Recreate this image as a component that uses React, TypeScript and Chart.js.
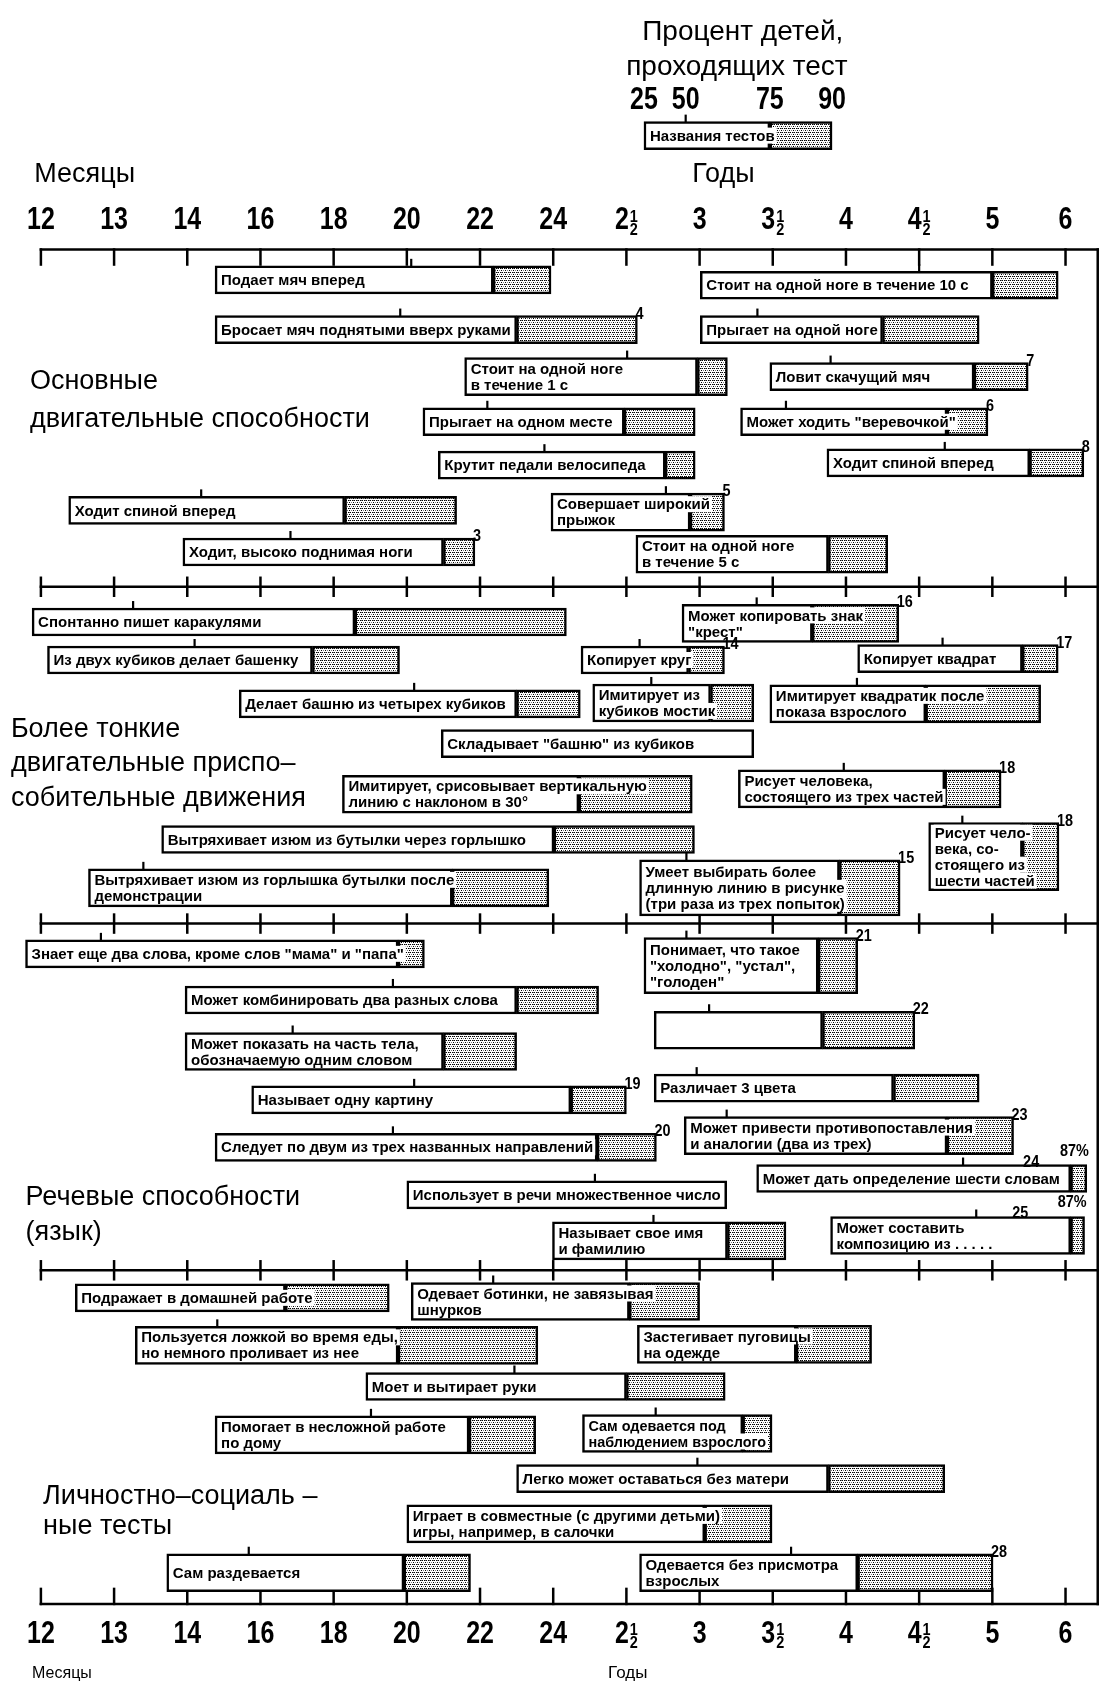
import React, { useEffect, useRef } from "react";
import { Chart, registerables } from "chart.js";

Chart.register(...registerables);

// ---------- DATA ----------
// Age axis tick labels (uniformly spaced positions 0..14)
const ageTicks = ["12", "13", "14", "16", "18", "20", "22", "24", "2½", "3", "3½", "4", "4½", "5", "6"];
const percentLabels = ["25", "50", "75", "90"];

// [name ("|" = line break), 25%, 50%, 75%, 90% (in age-tick units), row, footnote?, footnoteAt?, extraNote?]
const legendTest = ["Названия тестов", 8.24, 8.81, 9.96, 10.81, 3.0];

const grossMotor = [
  ["Подает мяч вперед", 2.38, 5.06, 6.18, 6.97, 6.19],
  ["Бросает мяч поднятыми вверх руками", 2.38, 4.91, 6.5, 8.15, 7.29, "4"],
  ["Стоит на одной ноге|в течение 1 с", 5.79, 8.01, 8.97, 9.38, 8.33],
  ["Прыгает на одном месте", 5.22, 6.1, 7.97, 8.94, 9.33],
  ["Крутит педали велосипеда", 5.43, 6.88, 8.53, 8.94, 10.29],
  ["Ходит спиной вперед", 0.38, 2.19, 4.15, 5.68, 11.29],
  ["Ходит, высоко поднимая ноги", 1.94, 3.41, 5.5, 5.93, 12.21, "3"],
  ["Стоит на одной ноге в течение 10 с", 9.01, 12.0, 13.0, 13.9, 6.31],
  ["Прыгает на одной ноге", 9.01, 9.79, 11.5, 12.82, 7.29],
  ["Ловит скачущий мяч", 9.96, 10.79, 12.75, 13.49, 8.33, "7"],
  ["Может ходить \"веревочкой\"", 9.56, 10.18, 12.38, 12.94, 9.33, "6"],
  ["Ходит спиной вперед", 10.74, 12.35, 13.51, 14.25, 10.24, "8"],
  ["Совершает широкий|прыжок", 6.97, 8.54, 8.87, 9.34, 11.33, "5"],
  ["Стоит на одной ноге|в течение 5 с", 8.13, null, 10.76, 11.57, 12.26],
];

const fineMotor = [
  ["Спонтанно пишет каракулями", -0.12, 1.26, 4.29, 7.18, 13.76],
  ["Из двух кубиков делает башенку", 0.09, 2.1, 3.71, 4.9, 14.6],
  ["Делает башню из четырех кубиков", 2.71, 5.1, 6.5, 7.37, 15.57],
  ["Складывает \"башню\" из кубиков", 5.47, null, 9.74, 9.74, 16.45],
  ["Имитирует, срисовывает вертикальную|линию с наклоном в 30°", 4.12, null, 7.35, 8.9, 17.57],
  ["Вытряхивает изюм из бутылки через горлышко", 1.65, null, 7.01, 8.93, 18.57],
  ["Вытряхивает изюм из горлышка бутылки после|демонстрации", 0.65, 1.4, 5.62, 6.94, 19.64],
  ["Может копировать знак|\"крест\"", 8.76, 9.78, 10.54, 11.72, 13.79, "16"],
  ["Копирует круг", 7.38, 8.18, 8.85, 9.34, 14.6, "14"],
  ["Копирует квадрат", 11.16, 12.32, 13.41, 13.9, 14.57, "17"],
  ["Имитирует из|кубиков мостик", 7.54, 8.34, 9.15, 9.74, 15.55],
  ["Имитирует квадратик после|показа взрослого", 9.96, 11.15, 12.09, 13.66, 15.57],
  ["Рисует человека,|состоящего из трех частей", 9.53, 10.97, 12.35, 13.12, 17.45, "18"],
  ["Рисует чело-|века, со-|стоящего из|шести частей", 12.13, 12.59, 13.41, 13.91, 18.95, "18"],
  ["Умеет выбирать более|длинную линию в рисунке|(три раза из трех попыток)", 8.18, 8.82, 10.91, 11.74, 19.64, "15"],
];

const language = [
  ["Знает еще два слова, кроме слов \"мама\" и \"папа\"", -0.21, 0.82, 4.88, 5.24, 21.1],
  ["Может комбинировать два разных слова", 1.97, 4.81, 6.5, 7.62, 22.12],
  ["Может показать на часть тела,|обозначаемую одним словом", 1.97, 3.44, 5.5, 6.5, 23.26],
  ["Называет одну картину", 2.88, 5.1, 7.24, 8.0, 24.33, "19"],
  ["Следует по двум из трех названных направлений", 2.38, 4.81, 7.6, 8.41, 25.38, "20"],
  ["Использует в речи множественное число", 5.0, 7.57, 9.37, 9.37, 26.43],
  ["Понимает, что такое|\"холодно\", \"устал\",|\"голоден\"", 8.24, 8.82, 10.62, 11.16, 21.36, "21"],
  ["", 8.38, 9.13, 10.68, 11.94, 22.79, "22"],
  ["Различает 3 цвета", 8.38, 8.96, 11.65, 12.82, 24.07],
  ["Может привести противопоставления|и аналогии (два из трех)", 8.79, 9.37, 12.38, 13.29, 25.12, "23"],
  ["Может дать определение шести словам", 9.78, 12.6, 14.07, 14.29, 26.07, "24", 13.53, "87%"],
  ["Называет свое имя|и фамилию", 6.99, 8.37, 9.38, 10.18, 27.45],
  ["Может составить|композицию из . . . . .", 10.79, 12.78, 14.07, 14.26, 27.33, "25", 13.38, "87%"],
];

const personalSocial = [
  ["Подражает в домашней работе", 0.47, null, 3.34, 4.76, 28.71],
  ["Одевает ботинки, не завязывая|шнурков", 5.06, 6.18, 8.04, 9.0, 28.79],
  ["Пользуется ложкой во время еды,|но немного проливает из нее", 1.29, 2.41, 4.88, 6.79, 29.76],
  ["Застегивает пуговицы|на одежде", 8.15, null, 10.32, 11.35, 29.74],
  ["Моет и вытирает руки", 4.44, 6.47, 8.0, 9.35, 30.67],
  ["Помогает в несложной работе|по дому", 2.38, 4.51, 5.85, 6.76, 31.74],
  ["Сам одевается под|наблюдением взрослого", 7.4, 8.4, 9.59, 9.99, 31.71],
  ["Легко может оставаться без матери", 6.5, 8.97, 10.76, 12.35, 32.71],
  ["Играет в совместные (с другими детьми)|игры, например, в салочки", 5.0, null, 9.07, 9.99, 33.71],
  ["Сам раздевается", 1.72, 2.84, 4.96, 5.87, 34.79],
  ["Одевается без присмотра|взрослых", 8.18, 10.25, 11.16, 13.01, 34.79, "28"],
];

const sectionTitles = [
  ["Основные", "двигательные способности"],
  ["Более тонкие", "двигательные приспо–", "собительные движения"],
  ["Речевые способности", "(язык)"],
  ["Личностно–социаль –", "ные тесты"],
];

// ---------- LAYOUT ----------
const X_MIN = -0.5588;
const X_MAX = 14.676;
const Y_MAX = 37.34;
const axisRows = [5.52, 12.98, 20.43, 28.1, 35.48];
const frameEnd = 14.44;
const titleLayout = [
  { u: -0.15, rows: [8.45, 9.29] },
  { u: -0.41, rows: [16.14, 16.9, 17.67] },
  { u: -0.21, rows: [26.48, 27.26] },
  { u: 0.03, rows: [33.1, 33.76] },
];
const tallBoxes = new Set(["Сам раздевается", ""]);
const thickness = [0, 28, 38, 56, 68];
const SANS = '"Liberation Sans", Arial, Helvetica, sans-serif';

const allTests: any[] = [legendTest, ...grossMotor, ...fineMotor, ...language, ...personalSocial];
const lineCount = (t: any) => {
  const n = t[0] ? t[0].split("|").length : 1;
  return tallBoxes.has(t[0]) ? Math.max(2, n) : n;
};

function txt(ctx: CanvasRenderingContext2D, s: string, x: number, y: number, font: string,
  align = "left", sx = 1, baseline: CanvasTextBaseline = "middle") {
  ctx.save();
  ctx.font = font;
  ctx.textBaseline = baseline;
  ctx.textAlign = "left";
  const w = ctx.measureText(s).width * sx;
  const x0 = align === "center" ? x - w / 2 : align === "right" ? x - w : x;
  ctx.translate(x0, y);
  ctx.scale(sx, 1);
  ctx.fillStyle = "#000";
  ctx.fillText(s, 0, 0);
  ctx.restore();
  return w;
}

const TICK_FONT = `bold 32px ${SANS}`;
const TICK_SX = 0.78;
const FRAC_FONT = `bold 17px ${SANS}`;

function ageLabel(ctx: CanvasRenderingContext2D, lab: string, x: number, y: number) {
  const half = lab.endsWith("½");
  const base = half ? lab.slice(0, -1) : lab;
  ctx.font = TICK_FONT;
  const wb = ctx.measureText(base).width * TICK_SX;
  ctx.font = FRAC_FONT;
  const wf = half ? ctx.measureText("1").width * 0.85 + 1 : 0;
  const x0 = x - (wb + wf) / 2;
  txt(ctx, base, x0, y, TICK_FONT, "left", TICK_SX, "middle");
  if (half) {
    txt(ctx, "1", x0 + wb + 1, y + 1, FRAC_FONT, "left", 0.85, "alphabetic");
    txt(ctx, "2", x0 + wb + 1, y + 14, FRAC_FONT, "left", 0.85, "alphabetic");
  }
}

const ddstPlugin = {
  id: "ddst",
  beforeDraw(chart: any) {
    const { ctx, width, height } = chart;
    ctx.save();
    ctx.fillStyle = "#fff";
    ctx.fillRect(0, 0, width, height);
    ctx.restore();
  },
  beforeDatasetsDraw(chart: any) {
    const ctx: CanvasRenderingContext2D = chart.ctx;
    const X = (v: number) => chart.scales.x.getPixelForValue(v);
    const Y = (v: number) => chart.scales.y.getPixelForValue(v);
    ctx.save();
    ctx.strokeStyle = "#000";
    ctx.lineWidth = 2.5;
    ctx.lineCap = "square";
    axisRows.forEach((r, i) => {
      const y = Y(r);
      ctx.beginPath();
      ctx.moveTo(X(0), y);
      ctx.lineTo(X(frameEnd), y);
      ctx.stroke();
      ageTicks.forEach((_, k) => {
        const x = X(k);
        ctx.beginPath();
        if (i === 0) { ctx.moveTo(x, y); ctx.lineTo(x, y + 15); }
        else if (i === axisRows.length - 1) { ctx.moveTo(x, y); ctx.lineTo(x, y - 15); }
        else { ctx.moveTo(x, y - 9); ctx.lineTo(x, y + 9); }
        ctx.stroke();
      });
    });
    ctx.beginPath();
    ctx.moveTo(X(frameEnd), Y(axisRows[0]));
    ctx.lineTo(X(frameEnd), Y(axisRows[axisRows.length - 1]));
    ctx.stroke();
    ctx.restore();
  },
  afterDatasetsDraw(chart: any) {
    const ctx: CanvasRenderingContext2D = chart.ctx;
    const X = (v: number) => chart.scales.x.getPixelForValue(v);
    const Y = (v: number) => chart.scales.y.getPixelForValue(v);

    // header
    txt(ctx, "Процент детей,", X(9.59), Y(0.71), `28px ${SANS}`, "center");
    txt(ctx, "проходящих тест", X(9.51), Y(1.48), `28px ${SANS}`, "center");
    const qs = [legendTest[1], legendTest[2], legendTest[3], legendTest[4]] as number[];
    percentLabels.forEach((p, i) => txt(ctx, p, X(qs[i]), Y(2.21), TICK_FONT, "center", TICK_SX));
    txt(ctx, "Месяцы", X(-0.09), Y(3.86), `27px ${SANS}`);
    txt(ctx, "Годы", X(8.9), Y(3.86), `27px ${SANS}`);
    ageTicks.forEach((lab, k) => {
      ageLabel(ctx, lab, X(k), Y(4.88));
      ageLabel(ctx, lab, X(k), Y(36.14));
    });
    txt(ctx, "Месяцы", X(-0.12), Y(37.02), `16px ${SANS}`);
    txt(ctx, "Годы", X(7.75), Y(37.02), `17px ${SANS}`);

    // section titles
    sectionTitles.forEach((lines, i) => {
      lines.forEach((s, j) => txt(ctx, s, X(titleLayout[i].u), Y(titleLayout[i].rows[j]), `27px ${SANS}`));
    });

    // bar annotations
    const LABEL_FONT = `bold 15px ${SANS}`;
    const NOTE_FONT = `bold 16px ${SANS}`;
    allTests.forEach((t: any) => {
      const [name, p25, p50, , p90, row, note, noteAt, extra] = t;
      const n = lineCount(t);
      const h = thickness[n];
      const top = Y(row) - h / 2;
      const cy = Y(row);
      const left = X(p25);
      const right = X(p90);
      ctx.save();
      ctx.strokeStyle = "#000";
      ctx.lineWidth = 2.2;
      if (p50 !== null && p50 !== undefined) {
        ctx.beginPath();
        ctx.moveTo(X(p50), top - 7);
        ctx.lineTo(X(p50), top + 1);
        ctx.stroke();
      }
      ctx.restore();
      if (name) {
        const lines = name.split("|");
        const lh = 16;
        ctx.font = LABEL_FONT;
        const maxW = Math.max(...lines.map((l: string) => ctx.measureText(l).width));
        const avail = right - left - 12;
        const sx = Math.min(1, avail / maxW);
        lines.forEach((l: string, j: number) => {
          const y = cy + (j - (lines.length - 1) / 2) * lh;
          ctx.font = LABEL_FONT;
          const w = ctx.measureText(l).width * sx;
          ctx.save();
          ctx.fillStyle = "#fff";
          ctx.fillRect(left + 5, y - 8, w + 3, 16);
          ctx.restore();
          txt(ctx, l, left + 6, y + 1, LABEL_FONT, "left", sx, "middle");
        });
      }
      if (note) {
        if (noteAt !== undefined) {
          ctx.font = NOTE_FONT;
          const w = ctx.measureText(note).width * 0.9;
          ctx.save();
          ctx.fillStyle = "#fff";
          ctx.fillRect(X(noteAt) - w / 2 - 2, top - 12, w + 4, 11);
          ctx.restore();
          txt(ctx, note, X(noteAt), top + 2, NOTE_FONT, "center", 0.9, "alphabetic");
        } else {
          txt(ctx, note, right - 2, top + 3, NOTE_FONT, "left", 0.9, "alphabetic");
        }
      }
      if (extra) {
        txt(ctx, extra, right + 2, top - 9, NOTE_FONT, "right", 0.9, "alphabetic");
      }
    });
  },
};

export default function App() {
  const ref = useRef<HTMLCanvasElement>(null);
  useEffect(() => {
    const canvas = ref.current;
    if (!canvas) return;
    const pc = document.createElement("canvas");
    pc.width = 4;
    pc.height = 4;
    const p = pc.getContext("2d")!;
    p.fillStyle = "#fff";
    p.fillRect(0, 0, 4, 4);
    p.fillStyle = "#000";
    p.fillRect(0, 0, 1, 1);
    p.fillRect(2, 0, 1, 1);
    p.fillRect(1, 2, 1, 1);
    p.fillRect(3, 2, 1, 1);
    p.fillStyle = "#777";
    p.fillRect(1, 0, 1, 1);
    p.fillRect(3, 2, 1, 1);
    const pattern = canvas.getContext("2d")!.createPattern(pc, "repeat");

    const datasets: any[] = [];
    [1, 2, 3, 4].forEach((n) => {
      const group = allTests.filter((t) => lineCount(t) === n);
      if (!group.length) return;
      datasets.push({
        label: `до 75% (${n})`,
        data: group.map((t) => ({ x: [t[1], t[3]], y: t[5] })),
        backgroundColor: "#fff",
        borderColor: "#000",
        borderWidth: 2.5,
        borderSkipped: false,
        barThickness: thickness[n],
        grouped: false,
      });
      const st = group.filter((t) => t[4] > t[3]);
      datasets.push({
        label: `75–90% (${n})`,
        data: st.map((t) => ({ x: [t[3], t[4]], y: t[5] })),
        backgroundColor: pattern,
        borderColor: "#000",
        borderWidth: 2.5,
        borderSkipped: false,
        barThickness: thickness[n],
        grouped: false,
      });
    });

    const chart = new Chart(canvas, {
      type: "bar",
      data: { datasets },
      options: {
        indexAxis: "y",
        animation: false,
        responsive: false,
        events: [],
        layout: { padding: 0 },
        plugins: { legend: { display: false }, tooltip: { enabled: false }, title: { display: false } },
        scales: {
          x: { type: "linear", min: X_MIN, max: X_MAX, display: false },
          y: { type: "linear", min: 0, max: Y_MAX, reverse: true, display: false, offset: false },
        },
      } as any,
      plugins: [ddstPlugin],
    });
    return () => chart.destroy();
  }, []);
  return (
    <div style={{ position: "absolute", left: 0, top: 0, width: 1115, height: 1688, background: "#fff" }}>
      <canvas ref={ref} width={1115} height={1688} style={{ display: "block" }} />
    </div>
  );
}
